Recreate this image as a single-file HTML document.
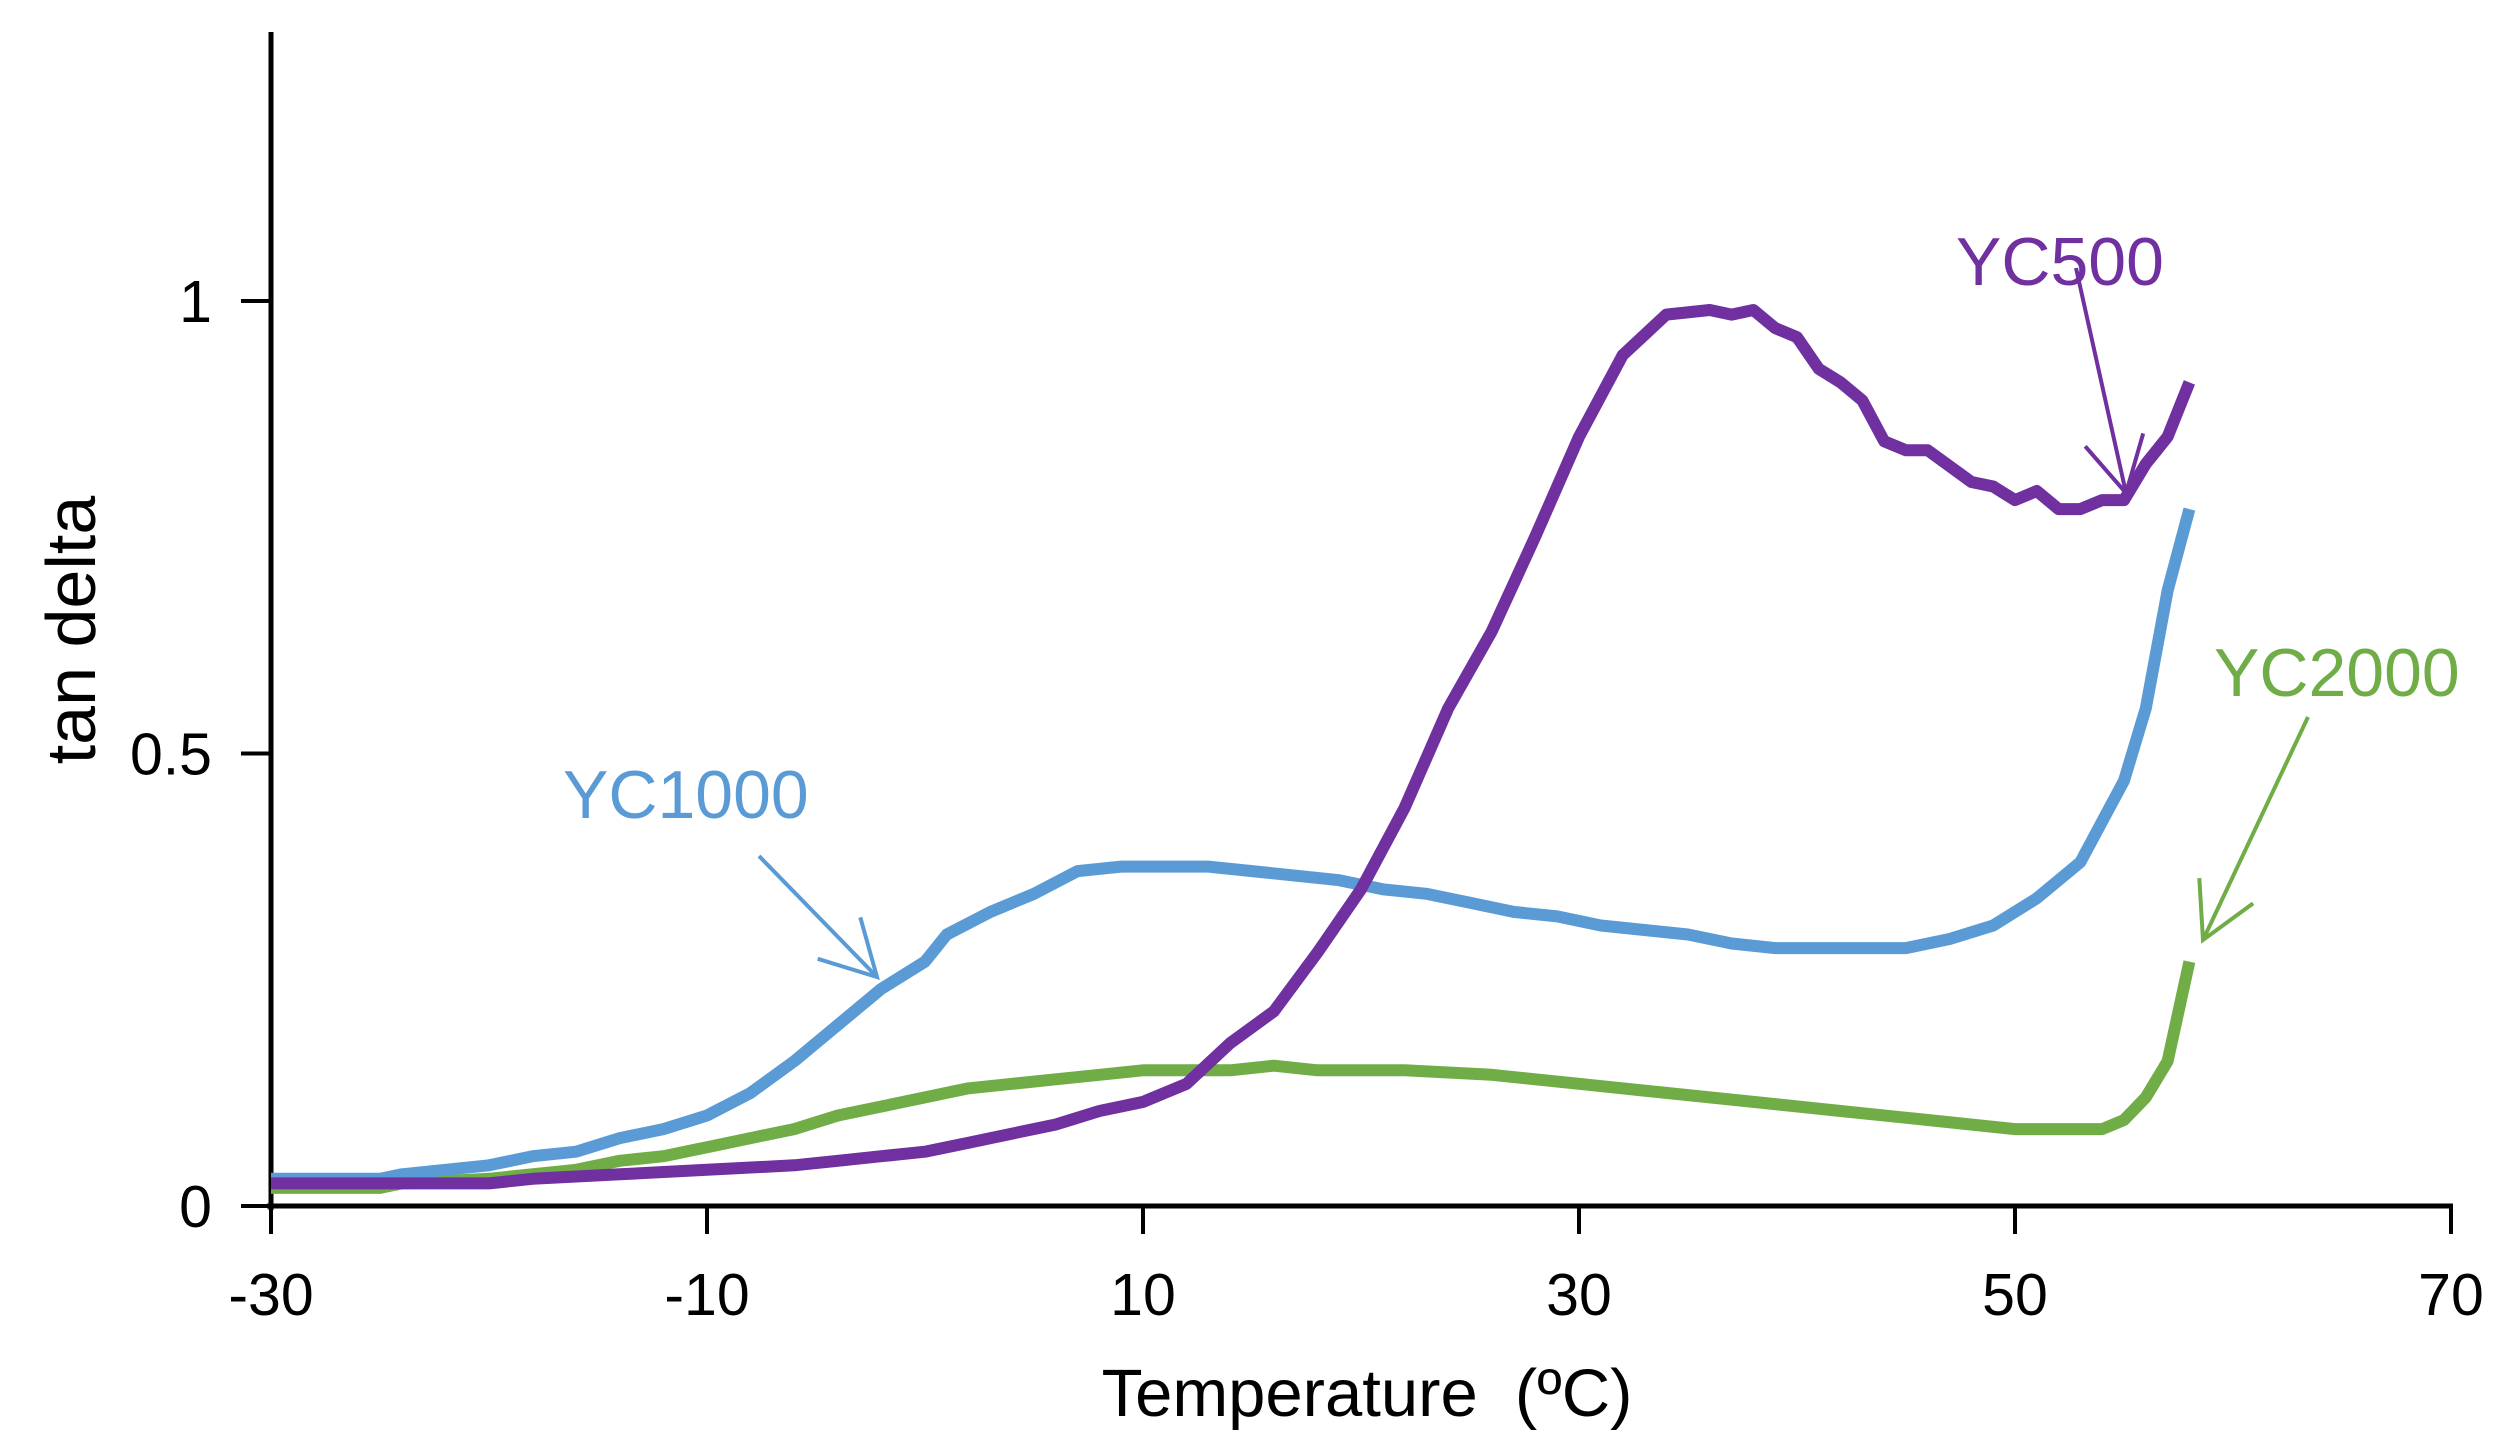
<!DOCTYPE html>
<html><head><meta charset="utf-8"><style>
html,body{margin:0;padding:0;background:#fff;}
svg{display:block;font-family:"Liberation Sans",Arial,sans-serif;}
</style></head><body>
<svg id="chart" width="2520" height="1455" viewBox="0 0 2520 1455" xmlns="http://www.w3.org/2000/svg">
<g id="axes"></g>
<g id="series"></g>
<g id="annot"></g>
</svg>
<script>
const xTicks = [-30, -10, 10, 30, 50, 70];
const yTicks = [0, 0.5, 1];
const yTickLabels = ["0", "0.5", "1"];
const yc500X = [-30,-20,-18,-14,-10,-6,-4,-2,0,2,4,6,8,10,12,14,16,18,20,22,24,26,28,30,32,34,36,37,38,39,40,41,42,43,44,45,46,48,49,50,51,52,53,54,55,56,57,58];
const yc500Y = [0.025,0.025,0.03,0.035,0.04,0.045,0.05,0.055,0.06,0.07,0.08,0.09,0.105,0.115,0.135,0.18,0.215,0.28,0.35,0.44,0.55,0.635,0.74,0.85,0.94,0.985,0.99,0.985,0.99,0.97,0.96,0.925,0.91,0.89,0.845,0.835,0.835,0.80,0.795,0.78,0.79,0.77,0.77,0.78,0.78,0.82,0.85,0.91];
const yc1000X = [-30,-25,-24,-20,-18,-16,-14,-12,-10,-8,-6,-4,-2,0,1,3,5,7,9,13,15,19,21,23,25,27,29,31,33,35,37,39,45,47,49,51,53,55,56,57,58];
const yc1000Y = [0.03,0.03,0.035,0.045,0.055,0.06,0.075,0.085,0.10,0.125,0.16,0.20,0.24,0.27,0.30,0.325,0.345,0.37,0.375,0.375,0.37,0.36,0.35,0.345,0.335,0.325,0.32,0.31,0.305,0.30,0.29,0.285,0.285,0.295,0.31,0.34,0.38,0.47,0.55,0.68,0.77];
const yc2000X = [-30,-25,-24,-20,-16,-14,-12,-10,-8,-6,-4,-2,0,2,4,6,8,10,14,16,18,22,26,30,34,38,42,46,50,54,55,56,57,58];
const yc2000Y = [0.02,0.02,0.025,0.03,0.04,0.05,0.055,0.065,0.075,0.085,0.10,0.11,0.12,0.13,0.135,0.14,0.145,0.15,0.15,0.155,0.15,0.15,0.145,0.135,0.125,0.115,0.105,0.095,0.085,0.085,0.095,0.12,0.16,0.27];

const NS = "http://www.w3.org/2000/svg";
const X0 = 271, X1 = 2451, Y0 = 1206, Y1 = 301;
function sx(v){ return X0 + (v - (-30)) / 100 * (X1 - X0); }
function sy(v){ return Y0 - v * (Y0 - Y1); }
function mk(tag, attrs, parent){ const e = document.createElementNS(NS, tag); for (const k in attrs) e.setAttribute(k, attrs[k]); parent.appendChild(e); return e; }
const axes = document.getElementById('axes');
const series = document.getElementById('series');
const annot = document.getElementById('annot');

let e = mk('line', {x1:X0, y1:32, x2:X0, y2:Y0+4, stroke:'#000', 'stroke-width':5}, axes);


e = mk('line', {x1:X0-4, y1:Y0, x2:X1+2, y2:Y0, stroke:'#000', 'stroke-width':5}, axes);



xTicks.forEach(t => {
  const x = sx(t);
  let tk = mk('line', {x1:x, y1:Y0, x2:x, y2:Y0+28, stroke:'#000', 'stroke-width':4}, axes);
  
  
  let lb = mk('text', {x:x, y:1315, 'font-size':59, 'text-anchor':'middle', fill:'#000'}, axes);
  lb.textContent = String(t);
  
  
});
yTicks.forEach((t, i) => {
  const y = sy(t);
  let tk = mk('line', {x1:X0-30, y1:y, x2:X0, y2:y, stroke:'#000', 'stroke-width':4}, axes);
  
  
  let lb = mk('text', {x:212, y:y+21, 'font-size':59, 'text-anchor':'end', fill:'#000'}, axes);
  lb.textContent = yTickLabels[i];
  
  
});
let xt = mk('text', {x:1367, y:1416, 'font-size':67, 'text-anchor':'middle', fill:'#000'}, axes);
xt.textContent = 'Temperature\u00a0\u00a0(\u00baC)';


let yt = mk('text', {x:0, y:0, 'font-size':70, 'text-anchor':'middle', fill:'#000', transform:'translate(95,630) rotate(-90)'}, axes);
yt.textContent = 'tan delta';



function drawSeries(xs, ys, color, name){
  const pts = xs.map((x, i) => sx(x).toFixed(1) + ',' + sy(ys[i]).toFixed(1)).join(' ');
  const p = mk('polyline', {points:pts, fill:'none', stroke:color, 'stroke-width':12, 'stroke-linejoin':'round'}, series);
  
  
}
drawSeries(yc2000X, yc2000Y, '#70ad47', 'yc2000-line');
drawSeries(yc1000X, yc1000Y, '#5b9bd5', 'yc1000-line');
drawSeries(yc500X, yc500Y, '#7030a0', 'yc500-line');

function arrow(x1, y1, x2, y2, color, name){
  const l = mk('line', {x1:x1, y1:y1, x2:x2, y2:y2, stroke:color, 'stroke-width':4}, annot);
  
  
  const a = Math.atan2(y2 - y1, x2 - x1), L = 62, s = 0.5;
  const p = (x2 - L*Math.cos(a - s)).toFixed(1) + ',' + (y2 - L*Math.sin(a - s)).toFixed(1) + ' ' + x2 + ',' + y2 + ' ' + (x2 - L*Math.cos(a + s)).toFixed(1) + ',' + (y2 - L*Math.sin(a + s)).toFixed(1);
  const h = mk('polyline', {points:p, fill:'none', stroke:color, 'stroke-width':4}, annot);
  
  
}
function label(x, y, txt, color, name){
  const t = mk('text', {x:x, y:y, 'font-size':68, fill:color}, annot);
  t.textContent = txt;
  
  
}
label(1956, 285, 'YC500', '#7030a0', 'yc500-label');
arrow(2076, 268, 2126, 493, '#7030a0', 'yc500-arrow');
label(563, 818, 'YC1000', '#5b9bd5', 'yc1000-label');
arrow(759, 856, 877, 977, '#5b9bd5', 'yc1000-arrow');
label(2214, 696, 'YC2000', '#70ad47', 'yc2000-label');
arrow(2308, 717, 2203, 940, '#70ad47', 'yc2000-arrow');
</script>
</body></html>
